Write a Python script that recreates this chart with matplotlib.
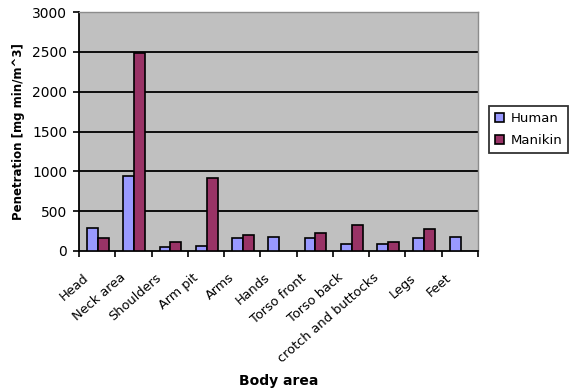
import numpy as np
import matplotlib
matplotlib.use("Agg")
import matplotlib.pyplot as plt
from matplotlib.transforms import ScaledTranslation

# Penetration per body area, human subjects vs. manikin
categories = ["Head", "Neck area", "Shoulders", "Arm pit", "Arms", "Hands",
              "Torso front", "Torso back", "crotch and buttocks", "Legs", "Feet"]
human = [290, 940, 45, 65, 160, 172, 168, 88, 85, 168, 172]
manikin = [160, 2480, 112, 915, 200, np.nan, 232, 322, 112, 282, np.nan]
y_ticks = [0, 500, 1000, 1500, 2000, 2500, 3000]

plt.rcParams["font.family"] = ["DejaVu Sans"]

fig = plt.figure(figsize=(5.69, 3.90), dpi=100)
ax = fig.add_axes([79 / 569, 1 - 251 / 390, (478 - 79) / 569, (251 - 12) / 390])
ax.set_facecolor("#C0C0C0")

x = np.arange(len(categories))
w = 0.30
ax.bar(x - w / 2 + 0.02, human, w, color="#9999FF", edgecolor="black",
       linewidth=1.2, label="Human", zorder=3)
ax.bar(x + w / 2 + 0.02, manikin, w, color="#993366", edgecolor="black",
       linewidth=1.2, label="Manikin", zorder=3)

# horizontal gridlines at the inner tick values
for v in y_ticks[1:-1]:
    ax.axhline(v, color="black", linewidth=1.3, zorder=1)

ax.set_xlim(-0.5, len(categories) - 0.5)
ax.set_ylim(y_ticks[0], y_ticks[-1])
ax.set_yticks(y_ticks)
ax.tick_params(axis="y", direction="out", length=4.5, width=1.2, pad=4,
               labelsize=10, colors="black")

# category labels centred, boundary ticks as minor ticks
ax.set_xticks(x)
ax.set_xticks(np.arange(len(categories) + 1) - 0.5, minor=True)
ax.tick_params(axis="x", which="major", length=0, pad=18, labelsize=9.3)
ax.tick_params(axis="x", which="minor", direction="out", length=4.5, width=1.2)
ax.set_xticklabels(categories, rotation=41, ha="right", va="center",
                   rotation_mode="anchor")
shift = ScaledTranslation(-10 / 100, 0, fig.dpi_scale_trans)
for lab in ax.get_xticklabels():
    lab.set_transform(lab.get_transform() + shift)

for side in ("left", "bottom"):
    ax.spines[side].set_color("black")
    ax.spines[side].set_linewidth(1.3)
for side in ("top", "right"):
    ax.spines[side].set_color("#8C8C8C")
    ax.spines[side].set_linewidth(1.0)

ax.set_ylabel("Penetration [mg min/m^3]", fontsize=8.5, fontweight="bold",
              labelpad=5)
ax.set_xlabel("Body area", fontsize=10, fontweight="bold")
ax.xaxis.set_label_coords(0.5, -0.515)

leg = fig.legend(loc="upper left", bbox_to_anchor=(489 / 569, 1 - 106 / 390),
                 fontsize=9.5, frameon=True, fancybox=False, edgecolor="black",
                 handlelength=0.65, handleheight=0.65, handletextpad=0.55,
                 borderpad=0.45, labelspacing=0.7, borderaxespad=0)
leg.get_frame().set_linewidth(1.3)

fig.savefig("out.png", dpi=100)
